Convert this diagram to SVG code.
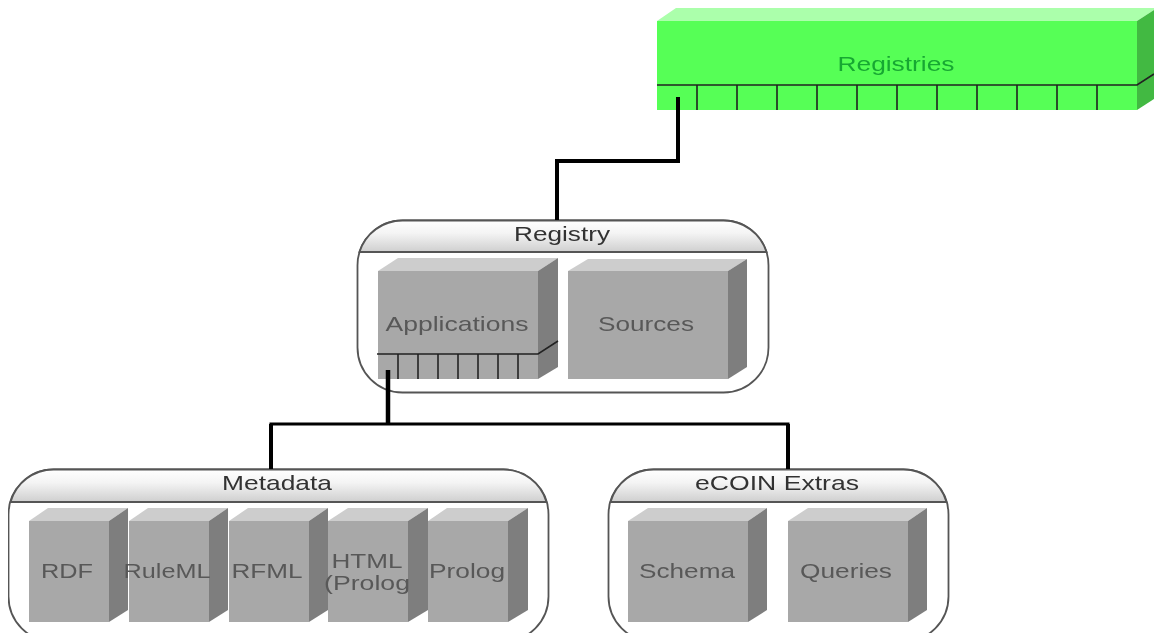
<svg xmlns="http://www.w3.org/2000/svg" width="1154" height="633" viewBox="0 0 1154 633">
<style>
text{font-family:"Liberation Sans",Arial,sans-serif;font-size:21px;text-anchor:middle}
.t{fill:#595959}.h{fill:#333}.g{fill:#18a832}
.f{fill:#a8a8a8}.u{fill:#cdcdcd}.s{fill:#7e7e7e}
.gf{fill:#57ff57}.gu{fill:#abffab}.gs{fill:#42b942}
.c{fill:#fff;stroke:#555;stroke-width:1.8}.hd{fill:url(#hg);stroke:#555;stroke-width:1.8}
.l{stroke:#222;stroke-width:1.6;fill:none}
.k{stroke:#000;fill:none}
</style>
<defs>
<linearGradient id="hg" x1="0" y1="0" x2="0" y2="1"><stop offset="0" stop-color="#fff"/><stop offset="0.4" stop-color="#f4f4f4"/><stop offset="1" stop-color="#cfcfcf"/></linearGradient>
<filter id="soft" x="0" y="0" width="100%" height="100%"><feGaussianBlur stdDeviation="0.5"/></filter>
</defs>
<g filter="url(#soft)">
<g id="registries">
<polygon class="gu" points="657,21 676,8 1154,8 1154,10 1137,21"/>
<rect class="gf" x="657" y="21" width="480" height="89"/>
<polygon class="gs" points="1137,21 1154,10 1154,99 1137,110"/>
<path class="l" d="M657 85H1137L1154 74M697 85V110M737 85V110M777 85V110M817 85V110M857 85V110M897 85V110M937 85V110M977 85V110M1017 85V110M1057 85V110M1097 85V110"/>
<text class="g" x="896" y="71" textLength="117" lengthAdjust="spacingAndGlyphs">Registries</text>
</g>
<g id="registry">
<rect class="c" x="357.500" y="220.500" width="411" height="172" rx="45" ry="45"/>
<path class="hd" d="M359.500 252A45 45 0 0 1 402.500 220.500H723.500A45 45 0 0 1 766.500 252Z"/>
<text class="h" x="562" y="241" textLength="96" lengthAdjust="spacingAndGlyphs">Registry</text>
</g>
<g id="applications">
<polygon class="u" points="378,271 398,258 558,258 538,271"/>
<rect class="f" x="378" y="271" width="160" height="108"/>
<polygon class="s" points="538,271 558,258 558,367 538,379"/>
<path class="l" d="M377 354H538L558 341M398 354V379M418 354V379M438 354V379M458 354V379M478 354V379M498 354V379M518 354V379"/>
<text class="t" x="457" y="331" textLength="143" lengthAdjust="spacingAndGlyphs">Applications</text>
</g>
<g id="sources">
<polygon class="u" points="568,271 588,259 747,259 728,271"/>
<rect class="f" x="568" y="271" width="160" height="108"/>
<polygon class="s" points="728,271 747,259 747,367 728,379"/>
<text class="t" x="646" y="331" textLength="96" lengthAdjust="spacingAndGlyphs">Sources</text>
</g>
<g id="metadata">
<rect class="c" x="8.500" y="469.500" width="540" height="172" rx="45" ry="45"/>
<path class="hd" d="M10.500 502A45 45 0 0 1 53.500 469.500H503.500A45 45 0 0 1 546.500 502Z"/>
<text class="h" x="277" y="490" textLength="110" lengthAdjust="spacingAndGlyphs">Metadata</text>
</g>
<g id="rdf">
<polygon class="u" points="29,521 48,508 128,508 109,521"/><rect class="f" x="29" y="521" width="80" height="101"/><polygon class="s" points="109,521 128,508 128,610 109,622"/>
<text class="t" x="67" y="578" textLength="52" lengthAdjust="spacingAndGlyphs">RDF</text>
</g>
<g id="ruleml">
<polygon class="u" points="129,521 148,508 228,508 209,521"/><rect class="f" x="129" y="521" width="80" height="101"/><polygon class="s" points="209,521 228,508 228,610 209,622"/>
<text class="t" x="167" y="578" textLength="87" lengthAdjust="spacingAndGlyphs">RuleML</text>
</g>
<g id="rfml">
<polygon class="u" points="229,521 248,508 328,508 309,521"/><rect class="f" x="229" y="521" width="80" height="101"/><polygon class="s" points="309,521 328,508 328,610 309,622"/>
<text class="t" x="267" y="578" textLength="71" lengthAdjust="spacingAndGlyphs">RFML</text>
</g>
<g id="html">
<polygon class="u" points="328,521 348,508 428,508 408,521"/><rect class="f" x="328" y="521" width="80" height="101"/><polygon class="s" points="408,521 428,508 428,610 408,622"/>
<text class="t" x="367" y="568" textLength="71" lengthAdjust="spacingAndGlyphs">HTML</text>
<text class="t" x="367" y="590" textLength="86" lengthAdjust="spacingAndGlyphs">(Prolog</text>
</g>
<g id="prolog">
<polygon class="u" points="428,521 447,508 528,508 508,521"/><rect class="f" x="428" y="521" width="80" height="101"/><polygon class="s" points="508,521 528,508 528,610 508,622"/>
<text class="t" x="467" y="578" textLength="76" lengthAdjust="spacingAndGlyphs">Prolog</text>
</g>
<g id="ecoin">
<rect class="c" x="608.500" y="469.500" width="340" height="172" rx="45" ry="45"/>
<path class="hd" d="M610.500 502A45 45 0 0 1 653.500 469.500H903.500A45 45 0 0 1 946.500 502Z"/>
<text class="h" x="777" y="490" textLength="164" lengthAdjust="spacingAndGlyphs">eCOIN Extras</text>
</g>
<g id="schema">
<polygon class="u" points="628,521 648,508 767,508 748,521"/><rect class="f" x="628" y="521" width="120" height="101"/><polygon class="s" points="748,521 767,508 767,610 748,622"/>
<text class="t" x="687" y="578" textLength="96" lengthAdjust="spacingAndGlyphs">Schema</text>
</g>
<g id="queries">
<polygon class="u" points="788,521 808,508 927,508 908,521"/><rect class="f" x="788" y="521" width="120" height="101"/><polygon class="s" points="908,521 927,508 927,610 908,622"/>
<text class="t" x="846" y="578" textLength="92" lengthAdjust="spacingAndGlyphs">Queries</text>
</g>
<g id="connectors">
<path class="k" stroke-width="4" d="M678 97V161H557V220"/>
<path class="k" stroke-width="4.500" d="M388 370V424"/>
<path class="k" stroke-width="3" d="M269.500 424H789.500"/>
<path class="k" stroke-width="4" d="M271 424V469M788 424V469"/>
</g>
</g>
</svg>
